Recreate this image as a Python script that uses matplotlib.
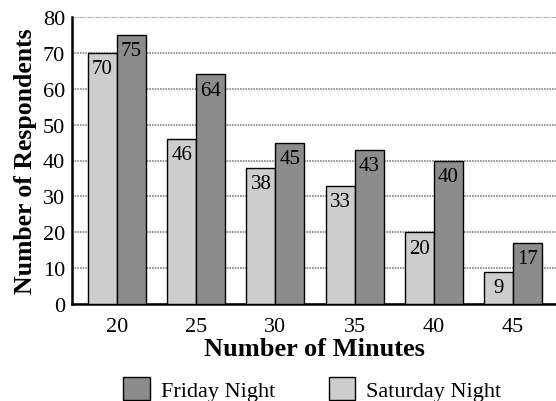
import matplotlib
matplotlib.use("Agg")
import matplotlib.pyplot as plt
import numpy as np

minutes = ["20", "25", "30", "35", "40", "45"]
saturday = [70, 46, 38, 33, 20, 9]
friday = [75, 64, 45, 43, 40, 17]
yticks = [0, 10, 20, 30, 40, 50, 60, 70, 80]

plt.rcParams['font.family'] = ['Liberation Serif', 'DejaVu Serif']

fig = plt.figure(figsize=(5.56, 4.02), dpi=100)
ax = fig.add_axes([72/556, 1-305/402, 1-72/556, 287/402])

x = np.arange(len(minutes))
w = 0.366
sat_col = "#cdcdcd"
fri_col = "#8c8c8c"
b1 = ax.bar(x - w/2, saturday, w, color=sat_col, edgecolor="black", linewidth=1.0, zorder=3, label="Saturday Night")
b2 = ax.bar(x + w/2, friday, w, color=fri_col, edgecolor="black", linewidth=1.0, zorder=3, label="Friday Night")

for xi, v in zip(x - w/2, saturday):
    ax.text(xi, v - 1.8, str(v), ha="center", va="top", fontsize=15, zorder=4)
for xi, v in zip(x + w/2, friday):
    ax.text(xi, v - 1.8, str(v), ha="center", va="top", fontsize=15, zorder=4)

ax.set_ylim(0, 80)
ax.set_xlim(-0.568, 5.54)
ax.set_yticks(yticks)
ax.set_xticks(x)
ax.set_xticklabels(minutes)
ax.tick_params(axis="both", length=0, labelsize=16)
ax.tick_params(axis="y", pad=5)
ax.tick_params(axis="x", pad=9)
ax.yaxis.grid(True, color="#888888", linestyle=(0, (1, 0.6)), linewidth=1.2, zorder=0)
for s in ["top", "right"]:
    ax.spines[s].set_visible(False)
ax.spines["left"].set_linewidth(1.8)
ax.spines["bottom"].set_linewidth(1.8)

ax.set_xlabel("Number of Minutes", fontsize=19, fontweight="bold", labelpad=1)
ax.set_ylabel("Number of Respondents", fontsize=18.5, fontweight="bold", labelpad=4)

leg = fig.legend(handles=[b2, b1], labels=["Friday Night", "Saturday Night"], loc="lower center",
                 bbox_to_anchor=(0.562, -0.05), ncol=2, frameon=False, fontsize=16,
                 handlelength=1.2, handleheight=1.2, columnspacing=2.4, handletextpad=0.5)

fig.savefig("out.png", dpi=100)
